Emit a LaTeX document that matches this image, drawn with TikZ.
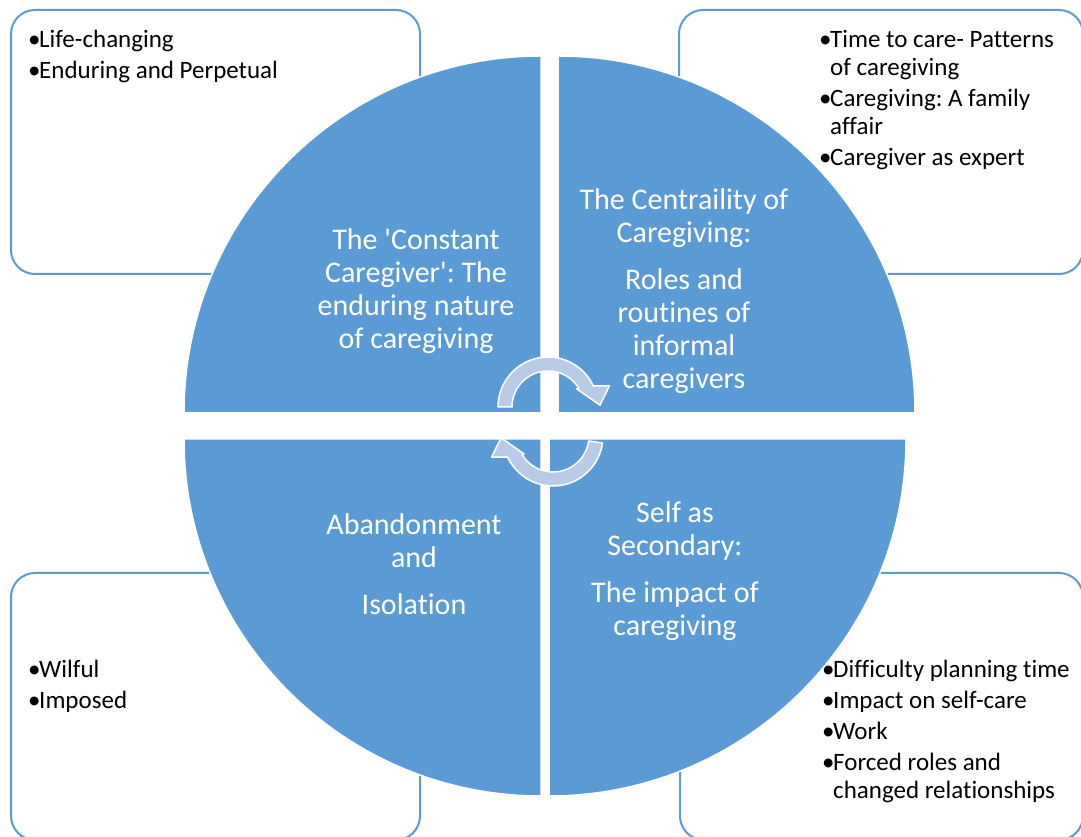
\documentclass[tikz,border=0pt]{standalone}
\usepackage{fontspec}
\setmainfont{Carlito}[Ligatures={TeX,NoCommon}]
\frenchspacing
\definecolor{quadblue}{HTML}{5B9BD5}
\definecolor{arrowblue}{HTML}{B8CCE8}
\tikzset{
  themebox/.style={draw=quadblue,line width=2pt,rounded corners=24pt},
  quadrant/.style={fill=quadblue,draw=white,line width=1.5pt},
  cyclearrow/.style={fill=arrowblue,draw=white,line width=1.5pt,line join=round},
  bullets/.style={anchor=base west,inner sep=0pt,font=\fontsize{25}{28}\selectfont},
  theme/.style={anchor=base,inner sep=0pt,text=white,font=\fontsize{30}{33}\selectfont}
}
\newcommand{\bul}{\makebox[11pt][l]{\textbullet}}
\newcommand{\ind}{\hspace*{11pt}}

\begin{document}
\begin{tikzpicture}[x=1pt,y=1pt]
\useasboundingbox (0,0) rectangle (1081,837);
\draw[themebox] (11,563) rectangle (420,827);
\draw[themebox] (679,563) rectangle (1083,827);
\draw[themebox] (11,-3) rectangle (420,264);
\draw[themebox] (680,-3) rectangle (1083,264);
\node[bullets] (lifelist) at (28,789) {\begin{tabular}[t]{@{}l@{}}
\bul Life-changing\\[3pt]
\bul Enduring and Perpetual
\end{tabular}};
\node[bullets] (rolelist) at (819,789) {\begin{tabular}[t]{@{}l@{}}
\bul Time to care- Patterns\\
\ind of caregiving\\[3pt]
\bul Caregiving: A family\\
\ind affair\\[3pt]
\bul Caregiver as expert
\end{tabular}};
\node[bullets] (isollist) at (28,159) {\begin{tabular}[t]{@{}l@{}}
\bul Wilful\\[3pt]
\bul Imposed
\end{tabular}};
\node[bullets] (impactlist) at (822,159) {\begin{tabular}[t]{@{}l@{}}
\bul Difficulty planning time\\[3pt]
\bul Impact on self-care\\[3pt]
\bul Work\\[3pt]
\bul Forced roles and\\
\ind changed relationships
\end{tabular}};
\filldraw[quadrant] (541,424) -- ++(180:357) arc[start angle=180,end angle=90,radius=357] -- cycle;
\filldraw[quadrant] (558,424) -- ++(0:357) arc[start angle=0,end angle=90,radius=357] -- cycle;
\filldraw[quadrant] (541,398) -- ++(180:357) arc[start angle=180,end angle=270,radius=357] -- cycle;
\filldraw[quadrant] (549,398) -- ++(270:357) arc[start angle=270,end angle=360,radius=357] -- cycle;
\node[theme] (constant) at (416,587) {\begin{tabular}[t]{@{}c@{}}
The \textquotesingle Constant\\ Caregiver\textquotesingle: The\\ enduring nature\\ of caregiving
\end{tabular}};
\node[theme] (centrality) at (684,627) {\begin{tabular}[t]{@{}c@{}}
The Centraility of\\ Caregiving:\\[14pt] Roles and\\ routines of\\ informal\\ caregivers
\end{tabular}};
\node[theme] (abandon) at (414,302) {\begin{tabular}[t]{@{}c@{}}
Abandonment\\ and\\[14pt] Isolation
\end{tabular}};
\node[theme] (secondary) at (675,314) {\begin{tabular}[t]{@{}c@{}}
Self as\\ Secondary:\\[14pt] The impact of\\ caregiving
\end{tabular}};
\begin{scope}[shift={(548,430)}]
\filldraw[cyclearrow] (180:50) arc[start angle=180,end angle=25,radius=50] -- (19:65) -- (2:52) -- (32:34) -- (31:36) arc[start angle=31,end angle=180,radius=36] -- cycle;
\end{scope}
\begin{scope}[shift={(553,401)},rotate=180]
\filldraw[cyclearrow] (172:50) arc[start angle=172,end angle=25,radius=50] -- (19:65) -- (2:52) -- (32:34) -- (31:36) arc[start angle=31,end angle=172,radius=36] -- cycle;
\end{scope}
\end{tikzpicture}
\end{document}
